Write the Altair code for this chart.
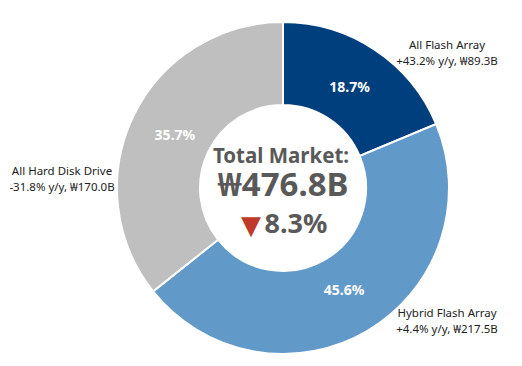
import altair as alt
import pandas as pd

segments = ["All Flash Array", "Hybrid Flash Array", "All Hard Disk Drive"]
shares = [18.7, 45.6, 35.7]
colors = ["#003f7d", "#6199c9", "#bfbfbf"]
order = [1, 2, 3]
share_labels = ["18.7%", "45.6%", "35.7%"]

ann_line1 = ["All Flash Array", "Hybrid Flash Array", "All Hard Disk Drive"]
ann_line2 = ["+43.2% y/y, ₩89.3B", "+4.4% y/y, ₩217.5B", "-31.8% y/y, ₩170.0B"]

total_title = "Total Market:"
total_value = "₩476.8B"
change_arrow = "▼"
change_value = "8.3%"

df = pd.DataFrame({"segment": segments, "share": shares, "order": order, "label": share_labels})

CX, CY = 275, 180
FONT = "Noto Sans"

base = alt.Chart(df).encode(
    theta=alt.Theta("share:Q", stack=True),
    order=alt.Order("order:Q"),
)

arcs = base.mark_arc(outerRadius=166, innerRadius=83, stroke="white", strokeWidth=2).encode(
    color=alt.Color("segment:N", scale=alt.Scale(domain=segments, range=colors), legend=None),
    x=alt.value(CX), y=alt.value(CY),
)

pct = base.mark_text(radius=120, font=FONT, fontSize=14, fontWeight="bold", color="white").encode(
    text="label:N", x=alt.value(CX), y=alt.value(CY),
)

def txt(s, x, y, size, weight="normal", color="#222222", baseline="middle", font=FONT):
    return alt.Chart(pd.DataFrame({"t": [s]})).mark_text(
        font=font, fontSize=size, fontWeight=weight, color=color, baseline=baseline, align="center"
    ).encode(text="t:N", x=alt.value(x), y=alt.value(y))

layers = [arcs, pct,
          txt(total_title, 273, 155, 20.5, "bold", "#595959", "alphabetic"),
          txt(total_value, 275, 188, 33, "bold", "#595959", "alphabetic"),
          txt(change_arrow, 243, 226, 26, "normal", "#c0392b", "alphabetic", "DejaVu Sans"),
          txt(change_value, 288, 225, 27, "bold", "#595959", "alphabetic"),
          txt(ann_line1[0], 439, 38, 11.5), txt(ann_line2[0], 439, 54, 11.5),
          txt(ann_line1[1], 439, 306, 11.5), txt(ann_line2[1], 439, 322, 11.5),
          txt(ann_line1[2], 54, 164, 11.5), txt(ann_line2[2], 54, 180, 11.5),
          ]

chart = alt.layer(*layers).properties(width=506, height=350, padding=0, autosize="none").configure_view(stroke=None)

chart.save("out.html", embed_options={"renderer": "svg", "actions": False})
